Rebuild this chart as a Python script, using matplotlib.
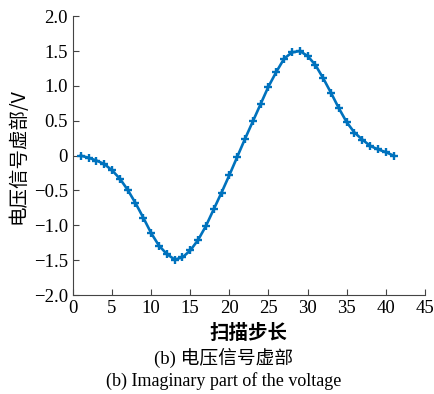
import numpy as np
import matplotlib.pyplot as plt
from matplotlib.ticker import FixedLocator, FixedFormatter

# Scan steps and imaginary part of the voltage signal (V)
steps = np.arange(1, 42)
imag_v = [0.00, -0.03, -0.07, -0.12, -0.21, -0.33, -0.49, -0.68, -0.89, -1.11,
          -1.29, -1.41, -1.49, -1.46, -1.36, -1.21, -1.01, -0.77, -0.53, -0.28,
          -0.02, 0.24, 0.49, 0.74, 0.99, 1.20, 1.39, 1.48, 1.50, 1.43,
          1.30, 1.11, 0.90, 0.68, 0.48, 0.33, 0.23, 0.14, 0.09, 0.05, 0.00]

y_ticks = [-2.0, -1.5, -1.0, -0.5, 0, 0.5, 1.0, 1.5, 2.0]
y_labels = ["\u22122.0", "\u22121.5", "\u22121.0", "\u22120.5", "0", "0.5", "1.0", "1.5", "2.0"]
x_ticks = [0, 5, 10, 15, 20, 25, 30, 35, 40, 45]

cjk = ["Noto Sans CJK SC", "DejaVu Sans"]
serif = "Liberation Serif"

fig = plt.figure(figsize=(4.34, 3.94), dpi=100)
ax = fig.add_axes([0.168, 0.251, 0.811, 0.708])

ax.plot(steps, imag_v, color="#0072BD", lw=1.9, marker="+", ms=6, mew=1.7)

ax.set_xlim(0, 45)
ax.set_ylim(-2.0, 2.0)
ax.xaxis.set_major_locator(FixedLocator(x_ticks))
ax.yaxis.set_major_locator(FixedLocator(y_ticks))
ax.yaxis.set_major_formatter(FixedFormatter(y_labels))
ax.spines["top"].set_visible(False)
ax.spines["right"].set_visible(False)
for s in ["left", "bottom"]:
    ax.spines[s].set_linewidth(0.8)
    ax.spines[s].set_color("#444444")
ax.tick_params(direction="in", length=4, width=0.8, color="#444444", labelsize=13.5)
for lab in ax.get_xticklabels() + ax.get_yticklabels():
    lab.set_fontfamily(serif)

ax.set_ylabel("电压信号虚部/V", family=cjk, fontsize=14, labelpad=4)
ax.set_xlabel("扫描步长", family=cjk, fontsize=14, fontweight="bold", labelpad=5)

fig.text(0.515, 0.092, "(b) 电压信号虚部", family=["Liberation Serif", "Noto Sans CJK SC"],
         fontsize=13.5, ha="center", va="center")
fig.text(0.515, 0.032, "(b) Imaginary part of the voltage", family=serif,
         fontsize=13, ha="center", va="center")

fig.savefig("out.png", dpi=100)
